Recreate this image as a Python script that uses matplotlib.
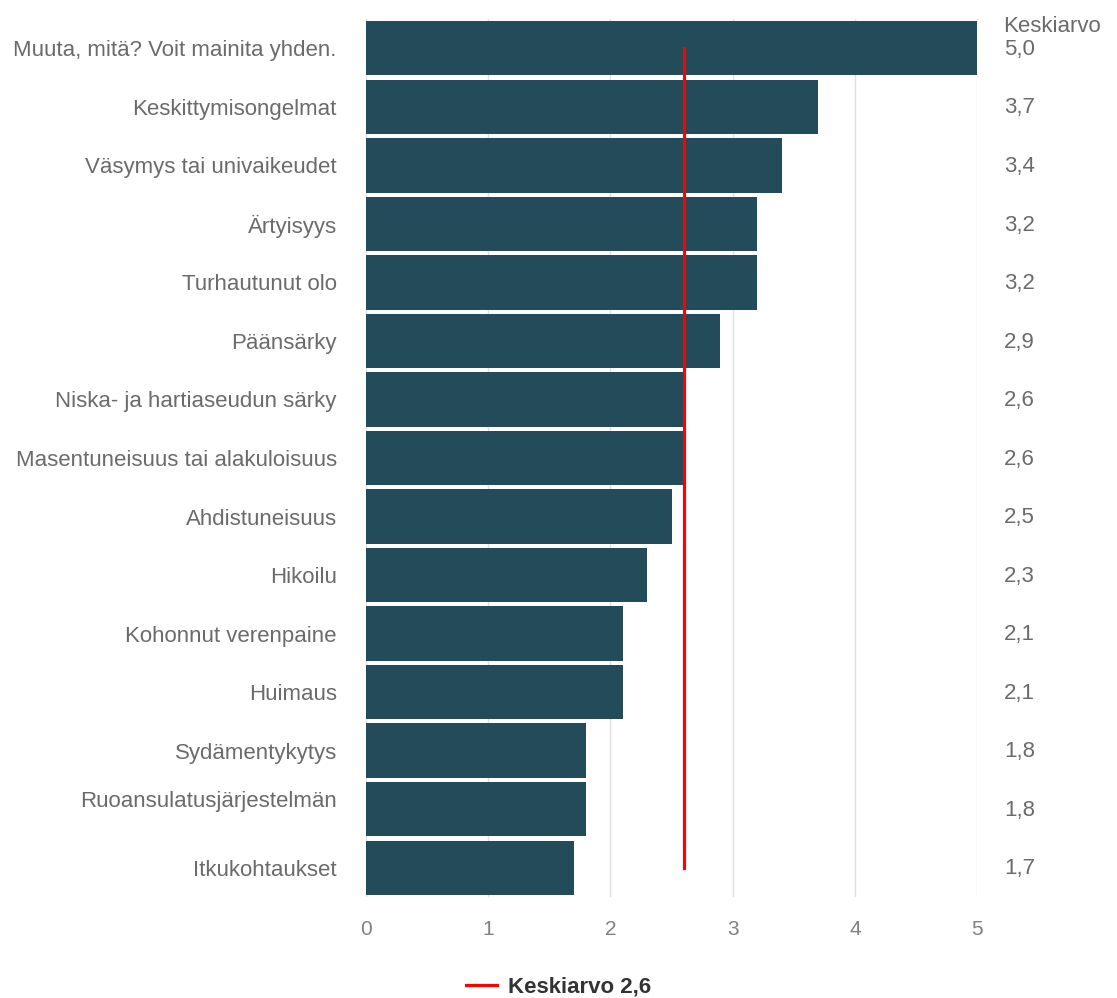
import numpy as np
from matplotlib import pyplot as plt
from matplotlib.lines import Line2D

##==============================================================================
## Symptom averages, horizontal bar chart with the overall mean marked
##==============================================================================
categories = ['Muuta, mitä? Voit mainita yhden.',
              'Keskittymisongelmat',
              'Väsymys tai univaikeudet',
              'Ärtyisyys',
              'Turhautunut olo',
              'Päänsärky',
              'Niska- ja hartiaseudun särky',
              'Masentuneisuus tai alakuloisuus',
              'Ahdistuneisuus',
              'Hikoilu',
              'Kohonnut verenpaine',
              'Huimaus',
              'Sydämentykytys',
              'Ruoansulatusjärjestelmän\n',
              'Itkukohtaukset']
averages = [5.0, 3.7, 3.4, 3.2, 3.2, 2.9, 2.6, 2.6, 2.5, 2.3, 2.1, 2.1, 1.8, 1.8, 1.7]
overall_mean = 2.6
x_ticks = [0, 1, 2, 3, 4, 5]

bar_colour = '#234b5a'
text_colour = '#6b6b6b'
plt.rcParams['font.family'] = ['Liberation Sans', 'DejaVu Sans']

fig = plt.figure(figsize=(11.17, 9.98), dpi=100)
ax = fig.add_axes([0.3277, 0.1012, 0.547, 0.8798])

y_pos = np.arange(len(categories))
ax.barh(y_pos, averages, height=0.93, color=bar_colour, zorder=2)
ax.plot([overall_mean, overall_mean], [y_pos[0], y_pos[-1]],
        color='#ff0000', lw=2.3, zorder=3)

ax.set_ylim(len(categories) - 0.5, -0.5)
ax.set_xlim(0, 5)
ax.set_yticks(y_pos)
ax.set_yticklabels(categories, fontsize=16, color=text_colour)
ax.set_xticks(x_ticks)
ax.set_xticklabels([str(t) for t in x_ticks], fontsize=15, color='#808080')
ax.tick_params(axis='y', length=0, pad=21)
ax.tick_params(axis='x', length=0, pad=16.5)
ax.grid(True, axis='x', color='#e0e0e0', lw=1, zorder=0)
for s in ax.spines.values():
    s.set_visible(False)

# mean values in a column to the right of the plot
for y, v in zip(y_pos, averages):
    ax.text(1.044, y + 0.02, ('%.1f' % v).replace('.', ','),
            transform=ax.get_yaxis_transform(),
            ha='left', va='center', fontsize=16, color=text_colour)
fig.text(1003 / 1117., 1 - 27 / 998., 'Keskiarvo', ha='left', va='center',
         fontsize=16, color=text_colour)

handle = Line2D([], [], color='#ff0000', lw=2.3)
fig.legend([handle], ['Keskiarvo 2,6'], loc='center',
           bbox_to_anchor=(0.5, 1 - 987 / 998.), frameon=False,
           prop={'weight': 'bold', 'size': 16}, labelcolor='#333333',
           handlelength=1.4, handletextpad=0.5)

plt.savefig('out.png')
